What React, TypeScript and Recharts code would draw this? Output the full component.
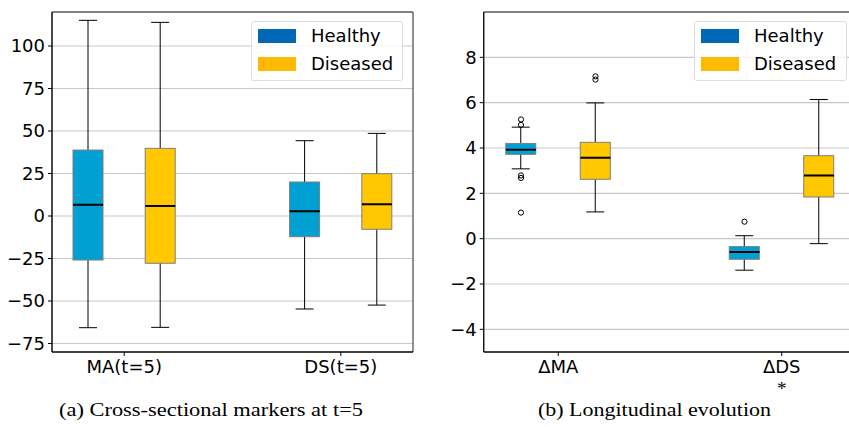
import React from 'react';
import {
  ComposedChart,
  Bar,
  Scatter,
  XAxis,
  YAxis,
  CartesianGrid,
  ReferenceArea,
} from 'recharts';

// ---------- data ----------
const groupNames = ['Healthy', 'Diseased'];
const boxPositions = [1, 2, 4, 5];
const boxGroups = ['Healthy', 'Diseased', 'Healthy', 'Diseased'];

const leftTickPositions = [1.5, 4.5];
const leftTickLabels = ['MA(t=5)', 'DS(t=5)'];
const leftYTicks = [-75, -50, -25, 0, 25, 50, 75, 100];
const leftWhiskerLow = [-65.7, -65.5, -54.7, -52.4];
const leftQ1 = [-25.9, -27.8, -12.2, -7.8];
const leftMedian = [6.6, 5.9, 2.8, 6.9];
const leftQ3 = [38.8, 39.8, 20.0, 24.9];
const leftWhiskerHigh = [115.1, 113.9, 44.3, 48.6];
const leftOutlierPos: number[] = [];
const leftOutlierVal: number[] = [];

const rightTickPositions = [1.5, 4.5];
const rightTickLabels = [['ΔMA'], ['ΔDS', '*']];
const rightYTicks = [-4, -2, 0, 2, 4, 6, 8];
const rightWhiskerLow = [3.08, 1.18, -1.39, -0.22];
const rightQ1 = [3.72, 2.62, -0.91, 1.84];
const rightMedian = [3.92, 3.57, -0.59, 2.79];
const rightQ3 = [4.2, 4.25, -0.35, 3.66];
const rightWhiskerHigh = [4.92, 5.99, 0.13, 6.14];
const rightOutlierPos = [1, 1, 1, 1, 1, 2, 2, 4];
const rightOutlierVal = [5.26, 5.02, 2.79, 2.68, 1.15, 7.16, 7.02, 0.75];

// ---------- styles ----------
const BOX_FILL: Record<string, string> = { Healthy: '#00a0d2', Diseased: '#ffc800' };
const LEGEND_FILL: Record<string, string> = { Healthy: '#0068b5', Diseased: '#ffb900' };
const FONT = '"DejaVu Sans", sans-serif';
const SERIF = '"Liberation Serif", serif';
const FS = 18;
const BOX_W = 30;
const CAP_W = 18;

type Row = {
  pos: number;
  group: string | null;
  wl: number | null;
  q1: number | null;
  med: number | null;
  q3: number | null;
  wh: number | null;
};

function buildRows(wl: number[], q1: number[], med: number[], q3: number[], wh: number[]): Row[] {
  const rows: Row[] = [];
  for (let p = 1; p <= 5; p++) {
    const i = boxPositions.indexOf(p);
    if (i < 0) rows.push({ pos: p, group: null, wl: null, q1: null, med: null, q3: null, wh: null });
    else rows.push({ pos: p, group: boxGroups[i], wl: wl[i], q1: q1[i], med: med[i], q3: q3[i], wh: wh[i] });
  }
  return rows;
}

const WhiskerShape = (props: any) => {
  const { x, y, width, height, payload } = props;
  if (payload == null || payload.wl == null) return null;
  const top = Math.min(y, y + height);
  const bot = Math.max(y, y + height);
  const cx = x + width / 2;
  return (
    <g>
      <line x1={cx} x2={cx} y1={top} y2={bot} stroke="#000" strokeWidth={1} />
      <line x1={cx - CAP_W / 2} x2={cx + CAP_W / 2} y1={top} y2={top} stroke="#000" strokeWidth={1} />
      <line x1={cx - CAP_W / 2} x2={cx + CAP_W / 2} y1={bot} y2={bot} stroke="#000" strokeWidth={1} />
    </g>
  );
};

const BoxShape = (props: any) => {
  const { x, y, width, height, payload } = props;
  if (payload == null || payload.q1 == null) return null;
  const top = Math.min(y, y + height);
  const h = Math.abs(height);
  return (
    <rect x={x} y={top} width={width} height={h} fill={BOX_FILL[payload.group]} stroke="#7f7f7f" strokeWidth={1} />
  );
};

const MedianShape = (props: any) => {
  const { cx, cy } = props;
  return <line x1={cx - BOX_W / 2} x2={cx + BOX_W / 2} y1={cy} y2={cy} stroke="#000" strokeWidth={2} />;
};

const OutlierShape = (props: any) => {
  const { cx, cy } = props;
  return <circle cx={cx} cy={cy} r={2.6} fill="none" stroke="#000" strokeWidth={1} />;
};

const fmtY = (v: number) => (v < 0 ? '\u2212' + Math.abs(v) : String(v));

const makeXTick = (positions: number[], labels: string[][]) => (props: any) => {
  const { x, y, payload } = props;
  const idx = positions.indexOf(payload.value);
  const lines = idx >= 0 ? labels[idx] : [];
  return (
    <g>
      <text x={x} y={y} dy="0.8em" textAnchor="middle" fontFamily={FONT} fontSize={FS} fill="#000">
        {lines[0]}
      </text>
      {lines.length > 1 && (
        <text x={x} y={y + 36} textAnchor="middle" fontFamily={SERIF} fontSize={19} fill="#000">
          {lines[1]}
        </text>
      )}
    </g>
  );
};

type PanelProps = {
  width: number;
  height: number;
  yAxisWidth: number;
  marginRight: number;
  domain: [number, number];
  yTicks: number[];
  tickPositions: number[];
  tickLabels: string[][];
  rows: Row[];
  outliers: { x: number; y: number }[];
};

function Panel(p: PanelProps) {
  const medians = p.rows.filter((r) => r.med != null).map((r) => ({ x: r.pos, y: r.med as number }));
  return (
    <ComposedChart
      width={p.width}
      height={p.height}
      data={p.rows}
      margin={{ top: 12, right: p.marginRight, bottom: 0, left: 0 }}
    >
      <CartesianGrid vertical={false} stroke="#c8c8c8" strokeWidth={1.2} />
      <XAxis
        xAxisId="num"
        dataKey="x"
        type="number"
        domain={[0.5, 5.5]}
        allowDataOverflow
        ticks={p.tickPositions}
        height={48}
        tickSize={4}
        tickMargin={3}
        tickLine={{ stroke: '#000' }}
        axisLine={{ stroke: '#000' }}
        tick={makeXTick(p.tickPositions, p.tickLabels)}
      />
      <XAxis xAxisId="wcat" dataKey="pos" type="category" hide height={0} />
      <XAxis xAxisId="bcat" dataKey="pos" type="category" hide height={0} />
      <YAxis
        type="number"
        domain={p.domain}
        allowDataOverflow
        ticks={p.yTicks}
        width={p.yAxisWidth}
        tickSize={4}
        tickMargin={3}
        tickLine={{ stroke: '#000' }}
        axisLine={{ stroke: '#000' }}
        tickFormatter={fmtY}
        tick={{ fontFamily: FONT, fontSize: FS, fill: '#000' }}
        interval={0}
      />
      <Bar
        xAxisId="wcat"
        dataKey={(d: Row) => (d.wl == null ? null : [d.wl, d.wh])}
        barSize={CAP_W}
        shape={WhiskerShape}
        isAnimationActive={false}
      />
      <Bar
        xAxisId="bcat"
        dataKey={(d: Row) => (d.q1 == null ? null : [d.q1, d.q3])}
        barSize={BOX_W}
        shape={BoxShape}
        isAnimationActive={false}
      />
      <Scatter xAxisId="num" data={medians} dataKey="y" shape={MedianShape} isAnimationActive={false} />
      <Scatter xAxisId="num" data={p.outliers} dataKey="y" shape={OutlierShape} isAnimationActive={false} />
      <ReferenceArea
        xAxisId="num"
        x1={0.5}
        x2={5.5}
        y1={p.domain[0]}
        y2={p.domain[1]}
        fill="none"
        stroke="#222"
        strokeWidth={1}
        ifOverflow="visible"
      />
    </ComposedChart>
  );
}

function LegendBox({ left, top, width }: { left: number; top: number; width: number }) {
  return (
    <div
      style={{
        position: 'absolute',
        left,
        top,
        width,
        height: 60,
        boxSizing: 'border-box',
        border: '1px solid #dddddd',
        borderRadius: 3,
        background: 'rgba(255,255,255,0.8)',
        fontFamily: FONT,
        fontSize: FS,
        color: '#000',
      }}
    >
      {groupNames.map((g, i) => (
        <div key={g} style={{ position: 'absolute', left: 6, top: 7 + i * 28, height: 14, display: 'flex', alignItems: 'center' }}>
          <div style={{ width: 38, height: 14, background: LEGEND_FILL[g] }} />
          <div style={{ marginLeft: 15, lineHeight: '14px', whiteSpace: 'nowrap' }}>{g}</div>
        </div>
      ))}
    </div>
  );
}

export default function App() {
  const leftRows = buildRows(leftWhiskerLow, leftQ1, leftMedian, leftQ3, leftWhiskerHigh);
  const rightRows = buildRows(rightWhiskerLow, rightQ1, rightMedian, rightQ3, rightWhiskerHigh);
  const leftOut = leftOutlierPos.map((x, i) => ({ x, y: leftOutlierVal[i] }));
  const rightOut = rightOutlierPos.map((x, i) => ({ x, y: rightOutlierVal[i] }));
  return (
    <div style={{ position: 'absolute', left: 0, top: 0, width: 849, height: 427, overflow: 'hidden', background: '#fff' }}>
      <div style={{ position: 'absolute', left: 0, top: 0 }}>
        <Panel
          width={420}
          height={400}
          yAxisWidth={52}
          marginRight={7}
          domain={[-80, 120]}
          yTicks={leftYTicks}
          tickPositions={leftTickPositions}
          tickLabels={leftTickLabels.map((l) => [l])}
          rows={leftRows}
          outliers={leftOut}
        />
      </div>
      <div style={{ position: 'absolute', left: 430, top: 0 }}>
        <Panel
          width={430}
          height={400}
          yAxisWidth={53.75}
          marginRight={3.75}
          domain={[-5, 10]}
          yTicks={rightYTicks}
          tickPositions={rightTickPositions}
          tickLabels={rightTickLabels}
          rows={rightRows}
          outliers={rightOut}
        />
      </div>
      <LegendBox left={251} top={21} width={152} />
      <LegendBox left={694} top={21} width={153} />
      <svg width={849} height={427} style={{ position: 'absolute', left: 0, top: 0, pointerEvents: 'none' }}>
        <text x={59} y={416} fontFamily={SERIF} fontSize={19} fill="#000" textLength={304} lengthAdjust="spacingAndGlyphs">
          (a) Cross-sectional markers at t=5
        </text>
        <text x={538} y={416} fontFamily={SERIF} fontSize={19} fill="#000" textLength={233} lengthAdjust="spacingAndGlyphs">
          (b) Longitudinal evolution
        </text>
      </svg>
    </div>
  );
}
